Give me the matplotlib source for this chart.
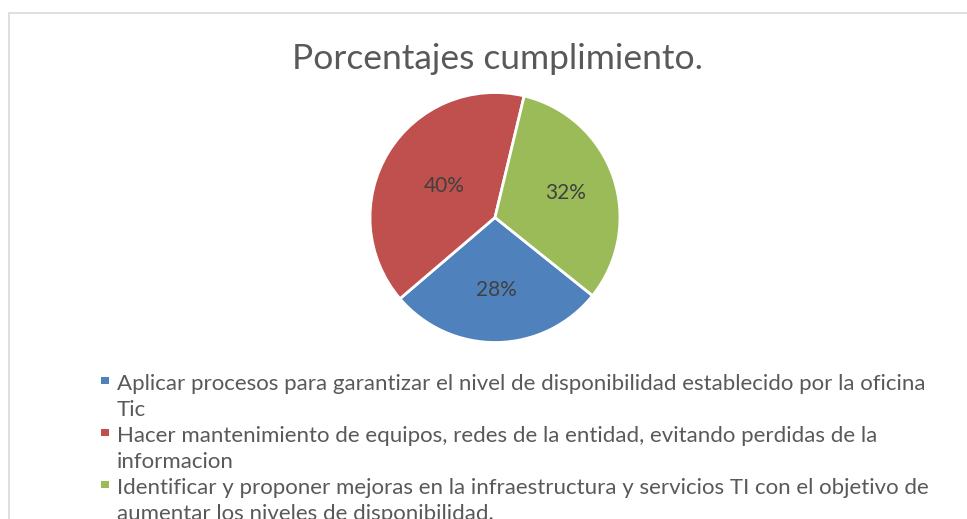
import matplotlib

matplotlib.use("Agg")
import matplotlib.pyplot as plt
import numpy as np
from matplotlib.patches import Rectangle

plt.rcParams["font.family"] = ["Lato", "DejaVu Sans"]

# data
labels = [
    "Aplicar procesos para garantizar el nivel de disponibilidad establecido por la oficina\nTic",
    "Hacer mantenimiento de equipos, redes de la entidad, evitando perdidas de la\ninformacion",
    "Identificar y proponer mejoras en la infraestructura y servicios TI con el objetivo de\naumentar los niveles de disponibilidad.",
]
shares = [28, 40, 32]
colors = ["#4F81BD", "#C0504D", "#9BBB59"]

# layout (pixels of the 967x519 canvas)
W, H = 967, 519
label_dist = [0.58, 0.48, 0.60]  # Excel "best fit" puts each % label a bit differently

fig = plt.figure(figsize=(W / 100, H / 100), dpi=100)


def fy(px):
    return 1 - px / H


# chart area border, cropped on right/bottom in the reference
fig.patches.append(Rectangle((9 / W, -0.1), 1.2, fy(13) + 0.1, transform=fig.transFigure,
                             fill=False, edgecolor="#d9d9d9", lw=1.2))

fig.text(497 / W, fy(69), "Porcentajes cumplimiento.", ha="center", va="baseline",
         fontsize=25.5, color="#595959")

cx, cy, r = 495, 217.5, 125
ax = fig.add_axes([(cx - r) / W, fy(cy + r), 2 * r / W, 2 * r / H])
wedges, texts, autotexts = ax.pie(
    shares, colors=colors, startangle=-38.7, counterclock=False,
    autopct="%1.0f%%", pctdistance=0.57,
    wedgeprops=dict(edgecolor="white", linewidth=2),
    textprops=dict(fontsize=15, color="#404040"),
)
for w, t, d in zip(wedges, autotexts, label_dist):
    ang = np.deg2rad((w.theta1 + w.theta2) / 2)
    t.set_position((d * np.cos(ang), d * np.sin(ang)))
ax.set_xlim(-1, 1)
ax.set_ylim(-1, 1)

# legend drawn by hand: Excel wraps long entries, marker sits on the first line
line_h = 26
base = 390
k = 0
for lab, c in zip(labels, colors):
    fig.patches.append(Rectangle((101 / W, fy(base + k * line_h - 6)), 7.5 / W, 7.5 / H,
                                 transform=fig.transFigure, facecolor=c, edgecolor="none"))
    for line in lab.split("\n"):
        fig.text(117 / W, fy(base + k * line_h), line, ha="left", va="baseline",
                 fontsize=16, color="#595959")
        k += 1

fig.savefig("out.png", dpi=100)
